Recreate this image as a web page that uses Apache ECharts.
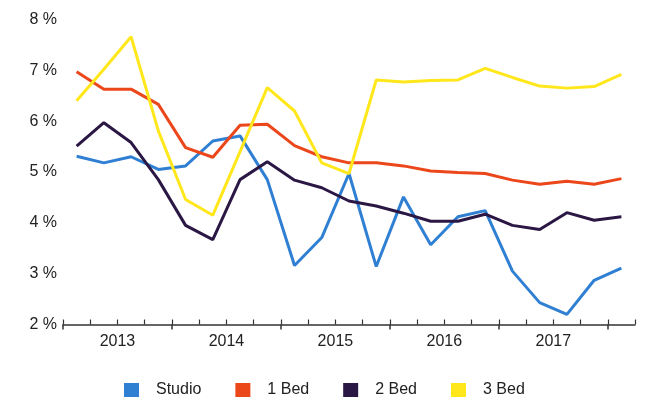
<!DOCTYPE html>
<html>
<head>
<meta charset="utf-8">
<script src="https://cdn.jsdelivr.net/npm/echarts@6/dist/echarts.min.js"></script>
<style>
  html, body { margin: 0; padding: 0; background: #ffffff; }
  #chart { width: 654px; height: 401px; }
</style>
</head>
<body>
<div id="chart"></div>
<script>
const quarters = [
  '2013 Q1', '2013 Q2', '2013 Q3', '2013 Q4',
  '2014 Q1', '2014 Q2', '2014 Q3', '2014 Q4',
  '2015 Q1', '2015 Q2', '2015 Q3', '2015 Q4',
  '2016 Q1', '2016 Q2', '2016 Q3', '2016 Q4',
  '2017 Q1', '2017 Q2', '2017 Q3', '2017 Q4',
  '2018 Q1'
];
const yearLabels = ['2013', '2014', '2015', '2016', '2017'];
const seriesNames = ['Studio', '1 Bed', '2 Bed', '3 Bed'];

const studio = [5.31, 5.18, 5.30, 5.05, 5.12, 5.61, 5.71, 4.85, 3.16, 3.71, 4.97, 3.14, 4.51, 3.57, 4.12, 4.24, 3.05, 2.43, 2.20, 2.87, 3.11];
const bed1   = [6.97, 6.63, 6.63, 6.33, 5.48, 5.29, 5.92, 5.94, 5.52, 5.30, 5.18, 5.18, 5.12, 5.02, 4.99, 4.97, 4.84, 4.76, 4.82, 4.76, 4.87];
const bed2   = [5.51, 5.97, 5.58, 4.85, 3.95, 3.67, 4.85, 5.20, 4.84, 4.69, 4.43, 4.33, 4.19, 4.03, 4.03, 4.17, 3.95, 3.87, 4.20, 4.05, 4.12];
const bed3   = [6.40, 7.02, 7.66, 5.81, 4.46, 4.15, 5.40, 6.66, 6.20, 5.18, 4.97, 6.81, 6.77, 6.80, 6.81, 7.04, 6.86, 6.69, 6.65, 6.68, 6.92];

const colors = ['#2f7fd3', '#ec461b', '#2a1744', '#ffe71c'];

// boundaries between quarters (22 of them); a year label sits in the middle of its 4 quarters
const boundaries = [];
for (let i = 0; i <= quarters.length; i++) {
  boundaries.push(i % 4 === 2 && yearLabels[(i - 2) / 4] ? yearLabels[(i - 2) / 4] : '');
}

const font = "'Liberation Sans', Arial, sans-serif";
const chart = echarts.init(document.getElementById('chart'), null, { renderer: 'canvas' });

chart.setOption({
  animation: false,
  backgroundColor: '#ffffff',
  color: colors,
  grid: { left: 63, right: 19, top: 19.5, bottom: 76.5, containLabel: false },
  legend: {
    data: seriesNames,
    left: 124,
    top: 382,
    padding: 0,
    icon: 'rect',
    itemWidth: 15,
    itemHeight: 14,
    itemGap: 34,
    textStyle: { fontFamily: font, fontSize: 16, color: '#222', padding: [0, 0, 0, 12] }
  },
  xAxis: [
    {
      type: 'category',
      data: quarters,
      boundaryGap: true,
      show: false,
      position: 'bottom'
    },
    {
      type: 'category',
      data: boundaries,
      boundaryGap: false,
      position: 'bottom',
      axisLine: { show: true, lineStyle: { color: '#333', width: 1.5 } },
      axisTick: { show: true, inside: true, length: 5, interval: 0, lineStyle: { color: '#333', width: 1.2 } },
      axisLabel: { show: false },
      splitLine: { show: false }
    },
    {
      type: 'category',
      data: boundaries,
      boundaryGap: false,
      position: 'bottom',
      axisLine: { show: false },
      axisTick: {
        show: true, length: 5,
        interval: function (index) { return index % 4 === 0; },
        lineStyle: { color: '#333', width: 1.5 }
      },
      axisLabel: { show: true, interval: 0, margin: 9, fontFamily: font, fontSize: 16, color: '#222' },
      splitLine: { show: false }
    }
  ],
  yAxis: {
    type: 'value',
    min: 2,
    max: 8,
    interval: 1,
    axisLine: { show: false },
    axisTick: { show: false },
    splitLine: { show: false },
    axisLabel: { formatter: '{value} %', margin: 6, fontFamily: font, fontSize: 16, color: '#222' }
  },
  series: [
    { name: seriesNames[0], type: 'line', xAxisIndex: 0, data: studio },
    { name: seriesNames[1], type: 'line', xAxisIndex: 0, data: bed1 },
    { name: seriesNames[2], type: 'line', xAxisIndex: 0, data: bed2 },
    { name: seriesNames[3], type: 'line', xAxisIndex: 0, data: bed3 }
  ].map(s => Object.assign(s, {
    showSymbol: false,
    symbol: 'none',
    lineStyle: { width: 3 }
  }))
});
</script>
</body>
</html>
